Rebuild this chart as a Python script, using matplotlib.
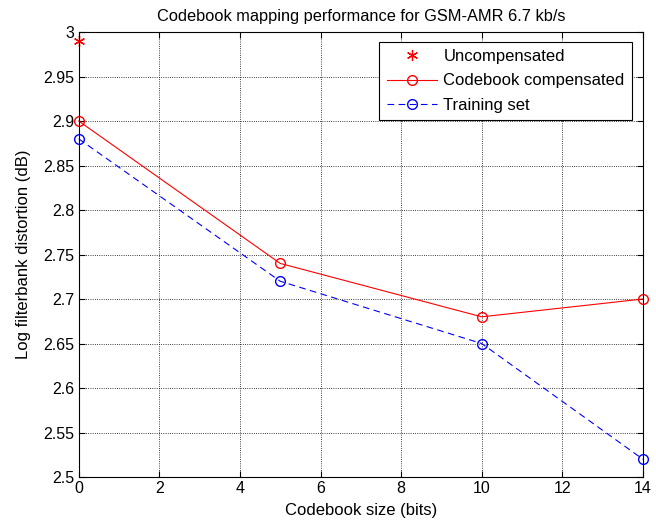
import matplotlib
matplotlib.use("Agg")
import matplotlib.pyplot as plt

plt.rcParams['font.family'] = ['Liberation Sans', 'DejaVu Sans']
plt.rcParams['font.size'] = 11.5

bits = [0, 5, 10, 14]
compensated = [2.90, 2.74, 2.68, 2.70]
training = [2.88, 2.72, 2.65, 2.52]
uncomp_x = [0]
uncomp_y = [2.99]

fig = plt.figure(figsize=(6.56, 5.25), dpi=100)
ax = fig.add_axes([0.120, 0.0914, 0.860, 0.8476])

ax.plot(uncomp_x, uncomp_y, marker=(6, 2, 0), color='red', markersize=8, linestyle='none',
        markeredgewidth=0.9, label='Uncompensated', clip_on=False)
ax.plot(bits, compensated, '-o', color='red', markerfacecolor='none', markersize=7,
        linewidth=0.8, label='Codebook compensated', clip_on=False)
ax.plot(bits, training, '--o', color='blue', markerfacecolor='none', markersize=7,
        linewidth=0.8, dashes=(6, 4), label='Training set', clip_on=False)

ax.set_xlim(0, 14)
ax.set_ylim(2.5, 3.0)
ax.set_xticks(range(0, 15, 2))
ax.set_yticks([2.5, 2.55, 2.6, 2.65, 2.7, 2.75, 2.8, 2.85, 2.9, 2.95, 3.0])
ax.set_yticklabels(['2.5', '2.55', '2.6', '2.65', '2.7', '2.75', '2.8', '2.85', '2.9', '2.95', '3'])
ax.grid(True, linestyle=':', color='black', linewidth=0.6)
ax.tick_params(direction='in', length=4, top=True, right=True, labelsize=11.5, pad=3)
for s in ax.spines.values():
    s.set_linewidth(0.8)

ax.set_xlabel('Codebook size (bits)', fontsize=12, labelpad=5)
ax.set_ylabel('Log filterbank distortion (dB)', fontsize=12, labelpad=9)
ax.set_title('Codebook mapping performance for GSM-AMR 6.7 kb/s', fontsize=11.8, pad=8)

leg = ax.legend(loc='upper right', bbox_to_anchor=(0.981, 0.978), fancybox=False,
                edgecolor='black', framealpha=1, borderaxespad=0, handlelength=3.0,
                handletextpad=0.4, fontsize=12, labelspacing=0.55, borderpad=0.45)
leg.get_frame().set_linewidth(0.8)

fig.savefig('out.png', dpi=100)
